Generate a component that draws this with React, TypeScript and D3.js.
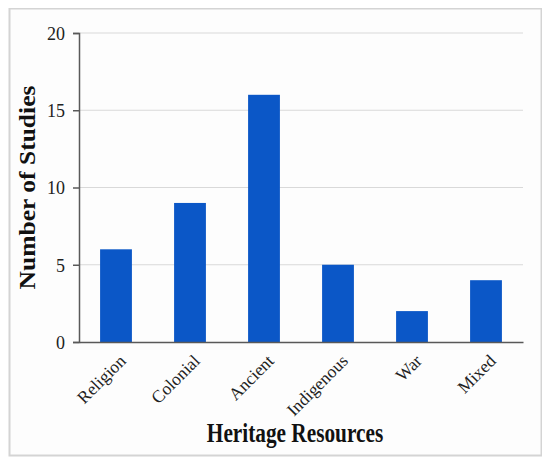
import React, { useEffect, useRef } from 'react';
import * as d3 from 'd3';

const categories = ['Religion', 'Colonial', 'Ancient', 'Indigenous', 'War', 'Mixed'];
const studies = [6, 9, 16, 5, 2, 4];
const yTicks = [0, 5, 10, 15, 20];

const App: React.FC = () => {
  const svgRef = useRef<SVGSVGElement | null>(null);

  useEffect(() => {
    if (!svgRef.current) return;
    const width = 550, height = 465;
    const left = 79, right = 523, top = 33, bottom = 342;
    const font = '"Liberation Serif", "Times New Roman", serif';

    const svg = d3.select(svgRef.current);
    svg.selectAll('*').remove();
    svg.attr('viewBox', `0 0 ${width} ${height}`);

    svg.append('rect')
      .attr('x', 9.5).attr('y', 8.5)
      .attr('width', 532).attr('height', 447)
      .attr('fill', '#fdfdfd')
      .attr('stroke', '#d4d4d4')
      .attr('stroke-width', 2);

    const x = d3.scaleBand<string>().domain(categories).range([left, right]).paddingInner(0.57).paddingOuter(0.285);
    const y = d3.scaleLinear().domain([0, 20]).range([bottom, top]);

    // gridlines
    svg.append('g').selectAll('line').data(yTicks.filter(t => t > 0)).enter().append('line')
      .attr('x1', left).attr('x2', right)
      .attr('y1', d => y(d)).attr('y2', d => y(d))
      .attr('stroke', '#d9d9d9').attr('stroke-width', 1);

    // bars
    svg.append('g').selectAll('rect').data(studies).enter().append('rect')
      .attr('x', (_, i) => x(categories[i])!)
      .attr('y', d => y(d))
      .attr('width', x.bandwidth())
      .attr('height', d => bottom - y(d))
      .attr('fill', '#0b57c7');

    // y axis
    const yAxis = svg.append('g').attr('transform', `translate(${left},0)`)
      .call(d3.axisLeft(y).tickValues(yTicks).tickSize(6).tickPadding(8));
    yAxis.select('.domain').attr('stroke', '#595959').attr('stroke-width', 1.5);
    yAxis.selectAll('.tick line').attr('stroke', '#595959').attr('stroke-width', 1.5);
    yAxis.selectAll('.tick text')
      .attr('font-family', font).attr('font-size', 18).attr('fill', '#222')
      .attr('transform', 'scale(1,1.1)');

    // x axis
    const xAxis = svg.append('g').attr('transform', `translate(0,${bottom})`)
      .call(d3.axisBottom(x).tickSize(0).tickPadding(0));
    xAxis.select('.domain').attr('stroke', '#595959').attr('stroke-width', 1.5);
    xAxis.selectAll('.tick text')
      .attr('font-family', font).attr('font-size', 17.5).attr('fill', '#222')
      .attr('text-anchor', 'end')
      .attr('dy', '0')
      .attr('transform', 'translate(11,20) rotate(-45)');

    svg.append('text')
      .attr('transform', `translate(35,${(top + bottom) / 2}) rotate(-90) scale(1.13,1)`)
      .attr('text-anchor', 'middle')
      .attr('font-family', font).attr('font-weight', 'bold').attr('font-size', 22.6)
      .attr('fill', '#111')
      .text('Number of Studies');

    svg.append('text')
      .attr('transform', 'translate(295,442) scale(1,1.28)')
      .attr('text-anchor', 'middle')
      .attr('font-family', font).attr('font-weight', 'bold').attr('font-size', 21.3)
      .attr('fill', '#111')
      .text('Heritage Resources');
  }, []);

  return (
    <div style={{ width: 550, height: 465, margin: -8 }}>
      <svg ref={svgRef} width={550} height={465} style={{ display: 'block' }} />
    </div>
  );
};

export default App;
